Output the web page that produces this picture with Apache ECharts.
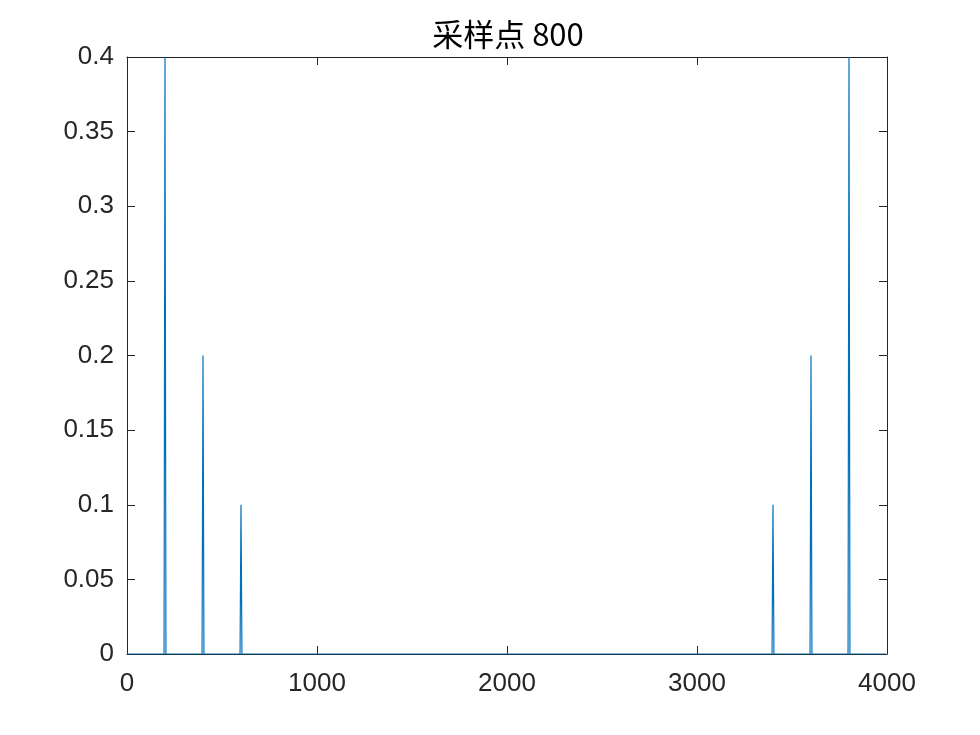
<!DOCTYPE html>
<html>
<head>
<meta charset="utf-8">
<script src="https://cdn.jsdelivr.net/npm/echarts@6/dist/echarts.min.js"></script>
<style>
  html, body { margin: 0; padding: 0; background: #fff; }
  #chart { width: 980px; height: 735px; }
</style>
</head>
<body>
<div id="chart"></div>
<script>
// spectrum peaks (frequency bin spacing 5)
const titleText = '采样点 800';
const binStep = 5;
const xEnd = 3995;
const peakFreqs = [200, 400, 600, 3400, 3600, 3800];
const peakAmps = [0.4, 0.2, 0.1, 0.1, 0.2, 0.4];

// line points: zero baseline with a one-bin triangle at every peak
const lineData = [[0, 0]];
peakFreqs.forEach((f, i) => {
    lineData.push([f - binStep, 0]);
    lineData.push([f, peakAmps[i]]);
    lineData.push([f + binStep, 0]);
});
lineData.push([xEnd, 0]);

const axisColor = '#262626';
const labelFont = 'Liberation Sans, Arial, sans-serif';

const chart = echarts.init(document.getElementById('chart'), null, { renderer: 'canvas' });
const boxAxis = {
    axisLine: { show: true, onZero: false, lineStyle: { color: axisColor, width: 1 } },
    axisTick: { show: true, inside: true, length: 8, lineStyle: { color: axisColor, width: 1 } },
    splitLine: { show: false }
};
const option = {
    backgroundColor: '#fff',
    animation: false,
    title: {
        text: titleText,
        left: 503,
        textAlign: 'center',
        top: 14,
        textStyle: {
            fontFamily: 'Noto Sans CJK SC, sans-serif',
            fontWeight: 'normal',
            fontSize: 31,
            color: '#000'
        }
    },
    grid: { left: 127, right: 93, top: 57, bottom: 81 },
    xAxis: [
        Object.assign({
            type: 'value', min: 0, max: 4000, interval: 1000, position: 'bottom',
            axisLabel: {
                fontSize: 26, color: axisColor, fontFamily: labelFont, margin: 17,
                formatter: v => String(v)
            }
        }, boxAxis),
        Object.assign({
            type: 'value', min: 0, max: 4000, interval: 1000, position: 'top',
            axisLabel: { show: false }
        }, boxAxis)
    ],
    yAxis: [
        Object.assign({
            type: 'value', min: 0, max: 0.4, interval: 0.05, position: 'left',
            axisLabel: { fontSize: 26, color: axisColor, fontFamily: labelFont, margin: 13 }
        }, boxAxis),
        Object.assign({
            type: 'value', min: 0, max: 0.4, interval: 0.05, position: 'right',
            axisLabel: { show: false }
        }, boxAxis)
    ],
    series: [{
        type: 'line',
        data: lineData,
        showSymbol: false,
        clip: true,
        lineStyle: { color: '#0072BD', width: 1.2 },
        itemStyle: { color: '#0072BD' }
    }]
};
chart.setOption(option);
</script>
</body>
</html>
